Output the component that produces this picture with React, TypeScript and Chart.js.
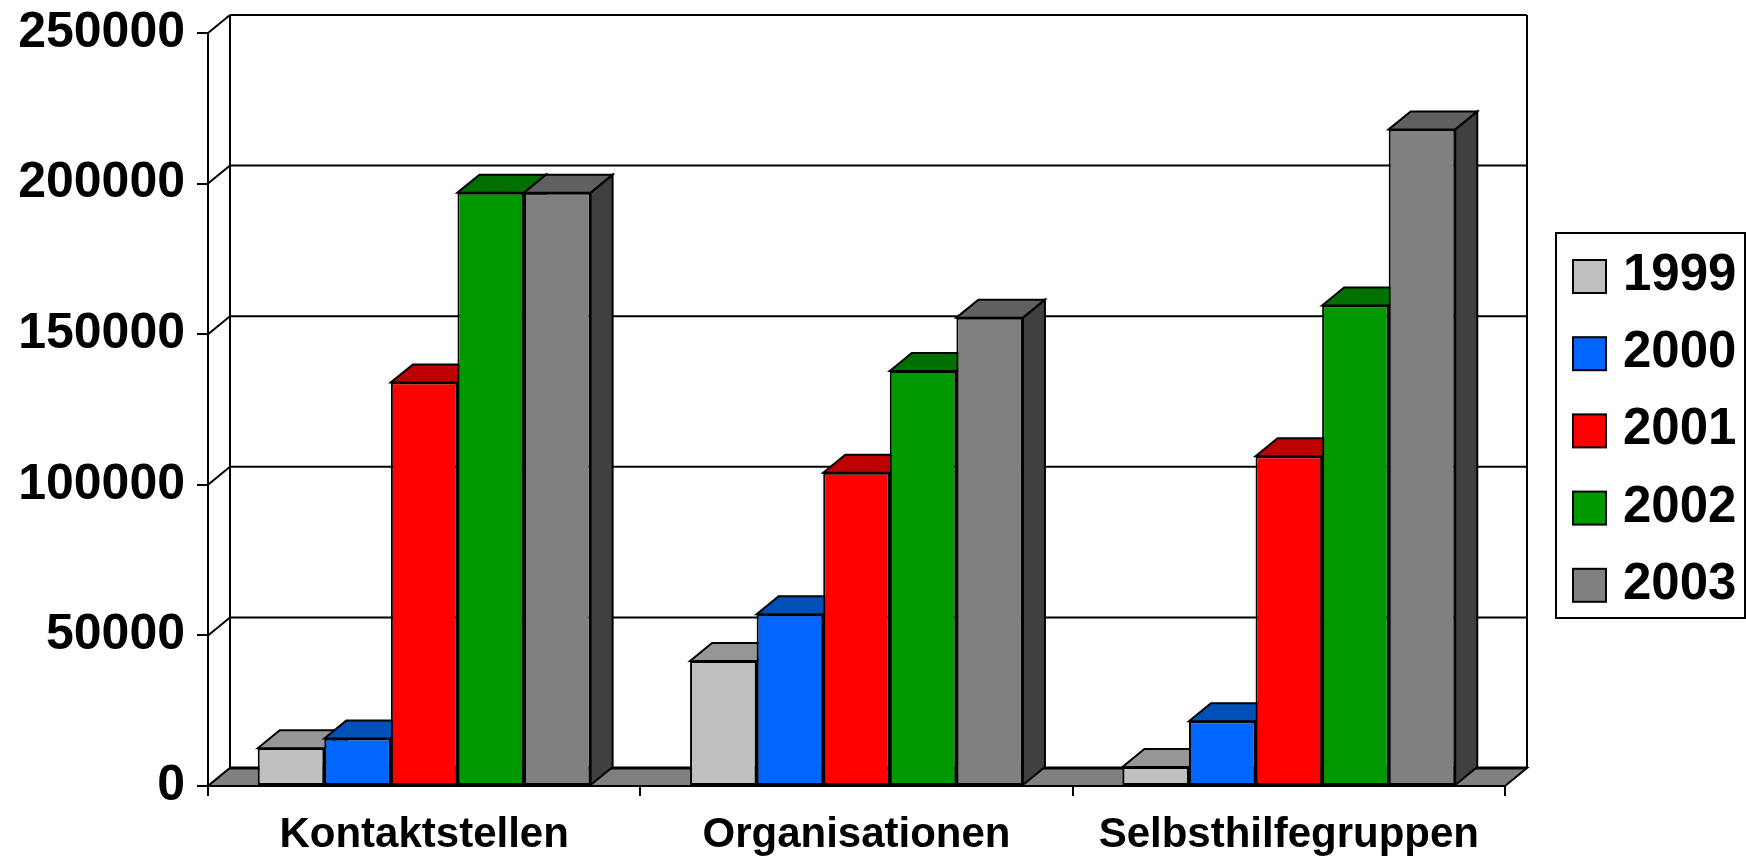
import React, { useEffect, useRef } from 'react';
import { Chart, registerables } from 'chart.js';

Chart.register(...registerables);

const categories = ['Kontaktstellen', 'Organisationen', 'Selbsthilfegruppen'];
const years = ['1999', '2000', '2001', '2002', '2003'];
const values1999 = [12500, 41500, 6300];
const values2000 = [15800, 57000, 21500];
const values2001 = [134000, 104000, 109500];
const values2002 = [197000, 137800, 159500];
const values2003 = [197000, 155500, 218000];
const yTickValues = [0, 50000, 100000, 150000, 200000, 250000];

const frontColors = ['#C0C0C0', '#0066FF', '#FF0000', '#009900', '#808080'];
const topColors = ['#969696', '#0050B8', '#BF0000', '#007000', '#606060'];
const sideColors = ['#8A8A8A', '#0040A0', '#A00000', '#005500', '#404040'];

const FONT = '"Liberation Sans", Arial, Helvetica, sans-serif';
const DX = 22;
const DY = 18;

const threeD = {
  id: 'threeD',
  beforeDatasetsDraw(chart: any) {
    const { ctx, chartArea: a, scales } = chart;
    const y = scales.y;
    ctx.save();
    ctx.lineWidth = 2;
    ctx.strokeStyle = '#000';
    const line = (x1: number, y1: number, x2: number, y2: number) => {
      ctx.beginPath();
      ctx.moveTo(x1, y1);
      ctx.lineTo(x2, y2);
      ctx.stroke();
    };
    // back wall grid + left wall diagonals
    y.ticks.forEach((t: any) => {
      const py = y.getPixelForValue(t.value);
      line(a.left, py, a.left + DX, py - DY);
      line(a.left + DX, py - DY, a.right + DX, py - DY);
    });
    line(a.left + DX, a.top - DY, a.left + DX, a.bottom - DY);
    line(a.right + DX, a.top - DY, a.right + DX, a.bottom - DY);
    // floor
    ctx.beginPath();
    ctx.moveTo(a.left, a.bottom);
    ctx.lineTo(a.left + DX, a.bottom - DY);
    ctx.lineTo(a.right + DX, a.bottom - DY);
    ctx.lineTo(a.right, a.bottom);
    ctx.closePath();
    ctx.fillStyle = '#808080';
    ctx.fill();
    ctx.stroke();
    ctx.lineWidth = 3;
    line(a.left + DX, a.bottom - DY, a.right + DX, a.bottom - DY);
    ctx.lineWidth = 2;

    const bars: any[] = [];
    chart.data.datasets.forEach((ds: any, di: number) => {
      const meta = chart.getDatasetMeta(di);
      meta.data.forEach((el: any) => {
        const p = el.getProps(['x', 'y', 'base', 'width'], true);
        bars.push({ ...p, di });
      });
    });
    bars.sort((p, q) => p.x - q.x);
    ctx.lineJoin = 'miter';
    // sides
    bars.forEach((b) => {
      const r = b.x + b.width / 2;
      ctx.beginPath();
      ctx.moveTo(r, b.y);
      ctx.lineTo(r + DX, b.y - DY);
      ctx.lineTo(r + DX, b.base - DY);
      ctx.lineTo(r, b.base);
      ctx.closePath();
      ctx.fillStyle = sideColors[b.di];
      ctx.fill();
      ctx.stroke();
    });
    // tops
    bars.forEach((b) => {
      const l = b.x - b.width / 2;
      const r = b.x + b.width / 2;
      ctx.beginPath();
      ctx.moveTo(l, b.y);
      ctx.lineTo(l + DX, b.y - DY);
      ctx.lineTo(r + DX, b.y - DY);
      ctx.lineTo(r, b.y);
      ctx.closePath();
      ctx.fillStyle = topColors[b.di];
      ctx.fill();
      ctx.stroke();
    });
    ctx.restore();
  },
  afterDraw(chart: any) {
    const { ctx } = chart;
    ctx.save();
    ctx.lineWidth = 2;
    ctx.strokeStyle = '#000';
    ctx.strokeRect(1556, 233, 189, 385);
    const rowY0 = 276;
    const step = 77.2;
    ctx.font = `bold 51px ${FONT}`;
    ctx.textBaseline = 'middle';
    ctx.textAlign = 'left';
    chart.data.datasets.forEach((ds: any, i: number) => {
      const cy = rowY0 + i * step;
      ctx.fillStyle = ds.backgroundColor;
      ctx.fillRect(1573, cy - 16, 33, 33);
      ctx.lineWidth = 2;
      ctx.strokeRect(1573, cy - 16, 33, 33);
      ctx.fillStyle = '#000';
      ctx.fillText(ds.label, 1623, cy);
    });
    ctx.restore();
  },
};

export default function App() {
  const ref = useRef<HTMLCanvasElement>(null);
  useEffect(() => {
    if (!ref.current) return;
    const series = [values1999, values2000, values2001, values2002, values2003];
    const chart = new Chart(ref.current, {
      type: 'bar',
      data: {
        labels: categories,
        datasets: years.map((yr, i) => ({
          label: yr,
          data: series[i],
          backgroundColor: frontColors[i],
          borderColor: '#000',
          borderWidth: 2,
          borderSkipped: false,
          categoryPercentage: 0.77,
          barPercentage: 1.0,
        })),
      },
      options: {
        animation: false,
        responsive: true,
        maintainAspectRatio: false,
        layout: { padding: { left: 0, top: 33, right: 241, bottom: 0 } },
        plugins: { legend: { display: false }, tooltip: { enabled: false } },
        scales: {
          x: {
            afterFit: (s: any) => { s.height = 70; s.paddingLeft = 0; s.paddingRight = 0; },
            grid: { display: true, drawOnChartArea: false, drawTicks: true, tickLength: 10, color: '#000', lineWidth: 2, offset: true },
            border: { display: true, color: '#000', width: 2 },
            ticks: { color: '#000', padding: 14, font: { family: FONT, size: 42, weight: 'bold' }, maxRotation: 0 },
          },
          y: {
            min: 0,
            max: 250000,
            afterFit: (s: any) => { s.width = 208; s.paddingTop = 0; s.paddingBottom = 0; },
            afterBuildTicks: (s: any) => { s.ticks = yTickValues.map((v) => ({ value: v })); },
            grid: { display: true, drawOnChartArea: false, drawTicks: true, tickLength: 11, color: '#000', lineWidth: 2 },
            border: { display: true, color: '#000', width: 2 },
            ticks: {
              color: '#000',
              padding: 12,
              font: { family: FONT, size: 50, weight: 'bold' },
              callback: (v: any) => String(v),
            },
          },
        },
      },
      plugins: [threeD],
    });
    return () => chart.destroy();
  }, []);
  return (
    <div style={{ position: 'fixed', left: 0, top: 0, width: 1746, height: 856, background: '#fff' }}>
      <canvas ref={ref} />
    </div>
  );
}
